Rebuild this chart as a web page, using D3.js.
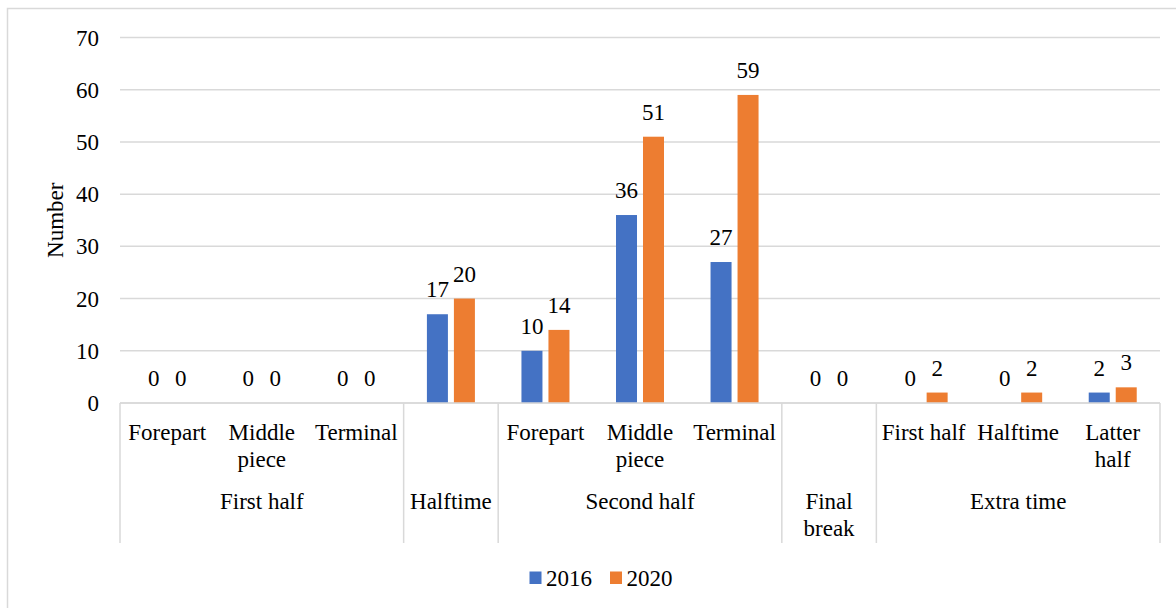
<!DOCTYPE html>
<html>
<head>
<meta charset="utf-8">
<script src="https://cdn.jsdelivr.net/npm/d3@7/dist/d3.min.js"></script>
<style>
  html, body { margin: 0; padding: 0; background: #fff; }
</style>
</head>
<body>
<svg id="chart" width="1176" height="608"></svg>
<script>
// Sub-periods of a match (line breaks marked with \n)
const subCategories = [
  "Forepart", "Middle\npiece", "Terminal",
  "",
  "Forepart", "Middle\npiece", "Terminal",
  "",
  "First half", "Halftime", "Latter\nhalf"
];
// Match periods and how many sub-periods each spans
const groupLabels = ["First half", "Halftime", "Second half", "Final\nbreak", "Extra time"];
const groupSpans = [3, 1, 3, 1, 3];

const seriesNames = ["2016", "2020"];
const values2016 = [0, 0, 0, 17, 10, 36, 27, 0, 0, 0, 2];
const values2020 = [0, 0, 0, 20, 14, 51, 59, 0, 2, 2, 3];
const yTicks = [0, 10, 20, 30, 40, 50, 60, 70];

const colors = ["#4472c4", "#ed7d31"];
const gridColor = "#d9d9d9";
const FONT = "'Liberation Serif'";
const FS = 23;

const svg = d3.select("#chart").style("font-family", FONT);
const plotLeft = 120, plotRight = 1160, plotTop = 37.5, plotBottom = 403;

function label(sel) {
  return sel.append("text").style("font-family", FONT).attr("font-size", FS).attr("fill", "#000");
}

// Outer chart frame
svg.append("rect")
  .attr("x", 7.5).attr("y", 8.5)
  .attr("width", 1200).attr("height", 700)
  .attr("fill", "none").attr("stroke", gridColor).attr("stroke-width", 1.5);

const idx = d3.range(subCategories.length);
const x = d3.scaleBand().domain(idx).range([plotLeft, plotRight]).padding(0);
const xInner = d3.scaleBand().domain(seriesNames)
  .range([0, x.bandwidth()]).paddingInner(0.222).paddingOuter(0.862);
const y = d3.scaleLinear().domain([0, 70]).range([plotBottom, plotTop]);

// Horizontal gridlines
svg.append("g").selectAll("line").data(yTicks).join("line")
  .attr("x1", plotLeft).attr("x2", plotRight)
  .attr("y1", d => y(d)).attr("y2", d => y(d))
  .attr("stroke", gridColor).attr("stroke-width", 1.5);

// Y axis tick labels
const yAxis = d3.axisLeft(y).tickValues(yTicks).tickSize(0).tickPadding(0);
const yg = svg.append("g").attr("transform", `translate(${plotLeft - 21},0)`).call(yAxis);
yg.select(".domain").remove();
yg.selectAll("text").attr("font-size", FS).attr("dy", "0.33em")
  .style("font-family", FONT).attr("fill", "#000");

// Y axis title
label(svg)
  .attr("transform", `translate(63,${(plotTop + plotBottom) / 2}) rotate(-90)`)
  .attr("text-anchor", "middle")
  .text("Number");

// Bars and value labels
const series = [values2016, values2020];
series.forEach((vals, s) => {
  const g = svg.append("g");
  g.selectAll("rect").data(vals).join("rect")
    .attr("x", (d, i) => x(i) + xInner(seriesNames[s]))
    .attr("y", d => y(d))
    .attr("width", xInner.bandwidth())
    .attr("height", d => y(0) - y(d))
    .attr("fill", colors[s]);
  g.selectAll("text").data(vals).join("text")
    .style("font-family", FONT)
    .attr("font-size", FS)
    .attr("x", (d, i) => x(i) + xInner(seriesNames[s]) + xInner.bandwidth() / 2)
    .attr("y", d => y(d) - 17)
    .attr("text-anchor", "middle")
    .text(d => d);
});

// Category axis baseline
svg.append("line")
  .attr("x1", plotLeft).attr("x2", plotRight).attr("y1", plotBottom).attr("y2", plotBottom)
  .attr("stroke", gridColor).attr("stroke-width", 1.5);

// Group separators
const boundaries = [0];
groupSpans.forEach(n => boundaries.push(boundaries[boundaries.length - 1] + n));
const bx = b => (b < idx.length ? x(b) : plotRight);
svg.append("g").selectAll("line").data(boundaries).join("line")
  .attr("x1", bx).attr("x2", bx)
  .attr("y1", plotBottom).attr("y2", 543)
  .attr("stroke", gridColor).attr("stroke-width", 1.5);

function multiline(sel, text, cx, y0, lineH) {
  const t = label(sel).attr("text-anchor", "middle");
  text.split("\n").forEach((ln, k) => {
    t.append("tspan").attr("x", cx).attr("y", y0 + k * lineH).text(ln);
  });
}

// Sub-category labels
const catG = svg.append("g");
subCategories.forEach((lab, i) => {
  if (lab) multiline(catG, lab, x(i) + x.bandwidth() / 2, 439.5, 27.5);
});

// Group labels
const grpG = svg.append("g");
groupLabels.forEach((lab, k) => {
  const x0 = bx(boundaries[k]);
  const x1 = bx(boundaries[k + 1]);
  multiline(grpG, lab, (x0 + x1) / 2, 508.5, 27.5);
});

// Legend
const legend = svg.append("g");
const legendItems = [{ name: seriesNames[0], x: 529.5 }, { name: seriesNames[1], x: 610 }];
legendItems.forEach((it, k) => {
  legend.append("rect").attr("x", it.x).attr("y", 571.5)
    .attr("width", 12).attr("height", 12.5).attr("fill", colors[k]);
  label(legend).attr("x", it.x + 16.5).attr("y", 586).text(it.name);
});
</script>
</body>
</html>
